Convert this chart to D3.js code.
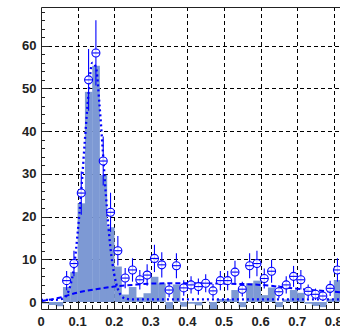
<!DOCTYPE html>
<html><head><meta charset="utf-8">
<script src="https://cdn.jsdelivr.net/npm/d3@7"></script>
<style>html,body{margin:0;padding:0;background:#fff;overflow:hidden}</style>
</head><body><svg id="c" width="340" height="327"></svg>
<script>
// ---- data ----
const binCenters = [0.01,0.03,0.05,0.07,0.09,0.11,0.13,0.15,0.17,0.19,0.21,0.23,0.25,0.27,0.29,0.31,0.33,0.35,0.37,0.39,0.41,0.43,0.45,0.47,0.49,0.51,0.53,0.55,0.57,0.59,0.61,0.63,0.65,0.67,0.69,0.71,0.73,0.75,0.77,0.79,0.81,0.83];
const dataValues = [0,0,0,5,9,25.5,52,58.3,33,21,12,5.6,7.5,5.2,6.3,10.2,8.7,2.8,8.5,3.3,4,3.6,4.4,2.6,5,5,7,3,8.5,9,5.5,7.2,2.4,4,6,5.2,2.5,1.8,1.4,3.2,7.5,4];
const signalValues = [-0.35,-0.7,-1.0,3.5,7.0,23.1,49.2,55.3,29.7,17.5,8.3,1.75,3.5,1.1,2.05,5.9,4.35,-1.6,4.1,-1.1,-0.4,-0.8,0.05,-1.7,0.7,0.7,2.8,-1.2,4.4,5.0,1.6,3.4,-1.2,0.6,2.8,2.15,-0.4,-0.95,-1.2,0.75,5.15,1.5];
const bkgX = [0,0.05,0.1,0.15,0.2,0.25,0.3,0.4,0.5,0.6,0.7,0.8,0.9,1.0];
const bkgY = [0.2,1.0,2.2,3.0,3.6,4.0,4.3,4.4,4.3,4.0,3.1,2.4,1.8,1.2];
const fitX = [0,0.04,0.06,0.07,0.08,0.09,0.10,0.11,0.12,0.13,0.14,0.15,0.16,0.17,0.18,0.19,0.20,0.21,0.22,0.23,0.25,0.4,0.6,0.8,1.0];
const fitY = [0.5,0.5,0.8,1.6,3.8,8,16,26,38,49,56,55,46,34,22,12.5,6.5,3.0,1.4,0.8,0.6,0.6,0.6,0.6,0.6];
const xTickValues = [0,0.1,0.2,0.3,0.4,0.5,0.6,0.7,0.8];
const xTickLabels = ["0","0.1","0.2","0.3","0.4","0.5","0.6","0.7","0.8"];
const yTickValues = [0,10,20,30,40,50,60];
const yTickLabels = ["0","10","20","30","40","50","60"];
const binWidth = 0.02;

// ---- layout ----
const L = 41, R = 407, T = 7, B = 309;
const blue = "#0000ff", fillCol = "rgb(125,153,212)";
const svg = d3.select("#c");
const x = d3.scaleLinear().domain([0, 1]).range([L, R]);
const y = d3.scaleLinear().domain([-1.64, 69.06]).range([B, T]);

svg.append("defs").append("clipPath").attr("id","clip")
  .append("rect").attr("x",L).attr("y",T).attr("width",R-L).attr("height",B-T);
const plot = svg.append("g").attr("clip-path","url(#clip)");

// grid
const grid = plot.append("g").attr("stroke","#000").attr("stroke-width",1).attr("stroke-dasharray","4,3");
[0.1,0.2,0.3,0.4,0.5,0.6,0.7,0.8,0.9].forEach(v => grid.append("line").attr("x1",Math.round(x(v))+0.5).attr("x2",Math.round(x(v))+0.5).attr("y1",T).attr("y2",B));
yTickValues.forEach(v => grid.append("line").attr("y1",Math.round(y(v))+0.5).attr("y2",Math.round(y(v))+0.5).attr("x1",L).attr("x2",R));

// filled histogram
plot.append("g").selectAll("rect").data(binCenters).join("rect")
  .attr("x", (c) => x(c - binWidth/2))
  .attr("width", x(binWidth) - x(0) + 0.3)
  .attr("y", (c,i) => Math.min(y(signalValues[i]), y(0)))
  .attr("height", (c,i) => Math.abs(y(signalValues[i]) - y(0)))
  .attr("fill", fillCol);

// background (dashed)
plot.append("path").datum(bkgX.map((v,i)=>[v,bkgY[i]]))
  .attr("d", d3.line().x(d=>x(d[0])).y(d=>y(d[1])).curve(d3.curveMonotoneX))
  .attr("fill","none").attr("stroke",blue).attr("stroke-width",2).attr("stroke-dasharray","5,3");

// fit (dotted)
plot.append("path").datum(fitX.map((v,i)=>[v,fitY[i]]))
  .attr("d", d3.line().x(d=>x(d[0])).y(d=>y(d[1])).curve(d3.curveMonotoneX))
  .attr("fill","none").attr("stroke",blue).attr("stroke-width",2.3).attr("stroke-dasharray","2,3");

// data points
const pts = plot.append("g");
binCenters.forEach((c,i) => {
  const v = dataValues[i];
  if (v <= 0) return;
  const e = Math.sqrt(v);
  const cx = x(c), cy = y(v);
  pts.append("line").attr("x1",cx).attr("x2",cx).attr("y1",y(v+e)).attr("y2",y(v-e)).attr("stroke",blue).attr("stroke-width",1.1);
  pts.append("circle").attr("cx",cx).attr("cy",cy).attr("r",4).attr("fill","#fff").attr("fill-opacity",0.8).attr("stroke",blue).attr("stroke-width",1.1);
  pts.append("line").attr("x1",x(c-binWidth/2)).attr("x2",x(c+binWidth/2)).attr("y1",cy).attr("y2",cy).attr("stroke",blue).attr("stroke-width",1.1);
});

// frame
svg.append("path").attr("d",`M${R},${T+0.5}H${L+0.5}V${B+0.5}H${R}`).attr("fill","none").attr("stroke","#222").attr("stroke-width",1);

// axes
const axg = svg.append("g").attr("stroke","#222").attr("stroke-width",1);
for (let v = 0; v <= 1.0001; v += 0.02) {
  const px = Math.round(x(v)) + 0.5;
  const major = Math.abs(v*10 - Math.round(v*10)) < 1e-6;
  axg.append("line").attr("x1",px).attr("x2",px).attr("y1",B).attr("y2",B-(major?8:4));
}
for (let v = 0; v <= 69; v += 2) {
  const py = Math.round(y(v)) + 0.5;
  const major = v % 10 === 0;
  axg.append("line").attr("y1",py).attr("y2",py).attr("x1",L).attr("x2",L+(major?8:4));
}
const txt = svg.append("g").attr("font-family","'Liberation Sans', Arial, sans-serif").attr("font-weight","bold").attr("font-size",13).attr("fill","#222");
xTickValues.forEach((v,i) => txt.append("text").attr("x",x(v)).attr("y",325.5).attr("text-anchor","middle").text(xTickLabels[i]));
yTickValues.forEach((v,i) => txt.append("text").attr("x",36.5).attr("y",y(v)+4.6).attr("text-anchor","end").text(yTickLabels[i]));
</script></body></html>
